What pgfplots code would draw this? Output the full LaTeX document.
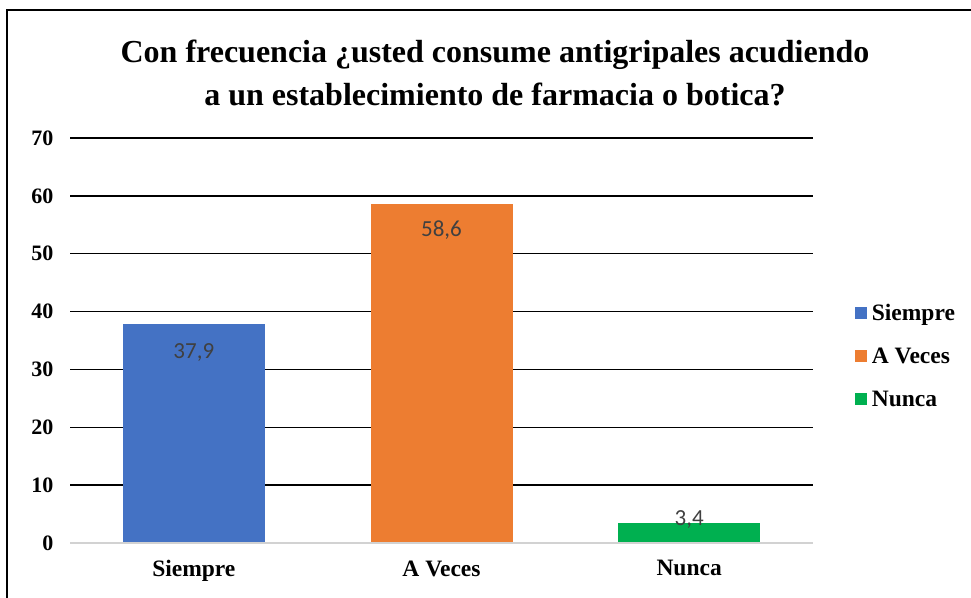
\documentclass[border=0pt]{standalone}
\usepackage{pgfplots}
\pgfplotsset{compat=1.18}
\usepackage{fontspec}
\setmainfont{Liberation Serif}
\newfontfamily\lab{Carlito}
\definecolor{cblue}{HTML}{4472C4}
\definecolor{corange}{HTML}{ED7D31}
\definecolor{cgreen}{HTML}{00B050}
\definecolor{clab}{HTML}{404040}
\begin{document}
\begin{tikzpicture}[x=1pt,y=1pt]
\path[use as bounding box] (0,0) rectangle (971,597);
\draw[line width=2pt] (7,-5) -- (7,587) -- (980,587);
\node[font=\bfseries\fontsize{32}{43}\selectfont, align=center] at (495,524) {Con frecuencia ¿usted consume antigripales acudiendo\\a un establecimiento de farmacia o botica?};
\begin{axis}[
  at={(70pt,54pt)}, anchor=south west,
  scale only axis, width=743pt, height=405pt,
  xmin=-0.5, xmax=2.5, ymin=0, ymax=70,
  ybar, bar width=142pt, bar shift=0pt,
  axis line style={draw=none},
  major tick length=0pt,
  ytick={0,10,...,70},
  xtick={0,1,2}, xticklabels={Siempre,A Veces,Nunca},
  ymajorgrids, grid style={black, line width=1.5pt},
  /pgf/number format/assume math mode=true,
  /pgf/number format/use comma,
  yticklabel style={font=\bfseries\fontsize{22}{26}\selectfont, anchor=east, xshift=-13pt},
  xticklabel style={font=\bfseries\fontsize{23.5}{28}\selectfont, yshift=-14pt},
  nodes near coords={\pgfmathprintnumber[fixed,precision=1,use comma,assume math mode=true]{\pgfplotspointmeta}},
  every node near coord/.append style={font=\lab\fontsize{23}{26}\selectfont, text=clab, anchor=center},
  legend style={at={(1.052,0.462)}, anchor=west, draw=none, fill=none,
    font=\bfseries\fontsize{23.5}{28}\selectfont, row sep=22pt,
    /tikz/every odd column/.append style={column sep=3pt}},
  legend cell align=left,
  legend image code/.code={\fill[#1] (0pt,-6pt) rectangle (12pt,6pt);},
]
\addplot[fill=cblue, draw=none, every node near coord/.append style={yshift=-29pt}] coordinates {(0,37.9)};
\addplot[fill=corange, draw=none, every node near coord/.append style={yshift=-26pt}] coordinates {(1,58.6)};
\addplot[fill=cgreen, draw=none, every node near coord/.append style={yshift=4pt}] coordinates {(2,3.4)};
\draw[gray!35, line width=1.5pt] (axis cs:-0.5,0) -- (axis cs:2.5,0);
\legend{Siempre,A Veces,Nunca}
\end{axis}
\end{tikzpicture}
\end{document}
